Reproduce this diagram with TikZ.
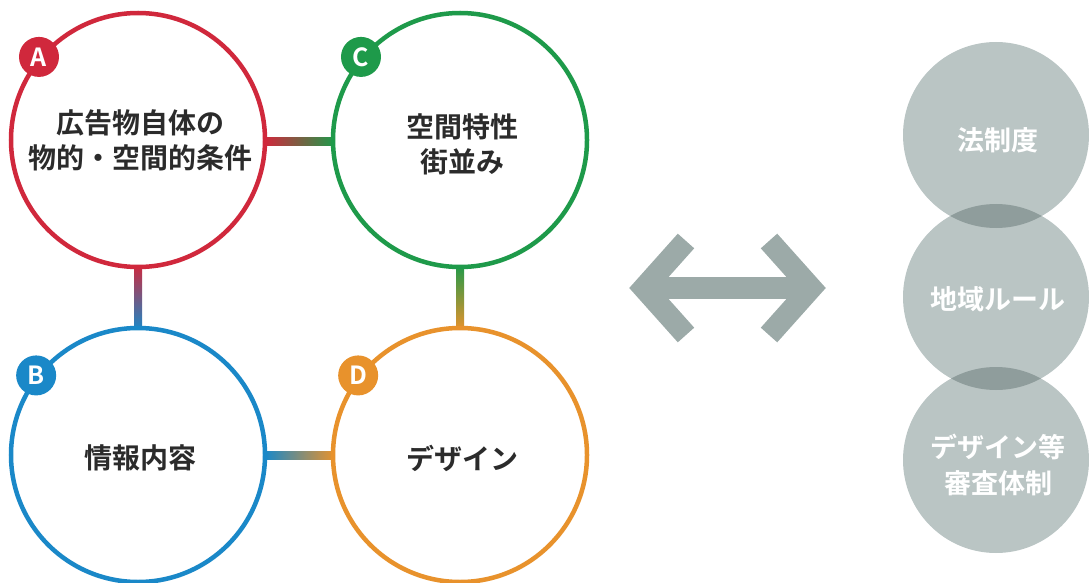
\documentclass[tikz,border=0pt]{standalone}
\usepackage{fontspec}
\setmainfont{Noto Sans CJK JP}[BoldFont={Noto Sans CJK JP Bold}]
\definecolor{cA}{HTML}{D0283C}
\definecolor{cB}{HTML}{1A88C8}
\definecolor{cC}{HTML}{1E9A4A}
\definecolor{cD}{HTML}{E8922C}
\definecolor{txt}{HTML}{2B2B2B}
\definecolor{gfill}{HTML}{BAC5C4}
\definecolor{glens}{HTML}{8F9D9C}
\definecolor{garrow}{HTML}{9CAAA8}
\tikzset{
  ring/.style={circle, minimum size=254pt, inner sep=0pt, line width=4.5pt, draw=#1, fill=white},
  badge/.style={circle, minimum size=40pt, inner sep=0pt, fill=#1, text=white, font=\bfseries\fontsize{25}{25}\selectfont},
  ctext/.style={align=center, text=txt, font=\bfseries\fontsize{28}{35}\selectfont},
  gcirc/.style={circle, minimum size=186pt, inner sep=0pt, fill=gfill},
  gtext/.style={align=center, text=white, font=\bfseries\fontsize{27}{36}\selectfont},
  arrowbar/.style={draw=garrow, line width=22pt, miter limit=10}
}
\begin{document}
\begin{tikzpicture}[x=1pt,y=1pt]
\useasboundingbox (0,0) rectangle (1089,582);
\clip (0,0) rectangle (1089,582);
% connectors (behind circles)
\shade[left color=cA, right color=cC] (265,436) rectangle (335,444);
\shade[top color=cA, bottom color=cB] (134,318) rectangle (142,252);
\shade[top color=cC, bottom color=cD] (456,318) rectangle (464,252);
\shade[left color=cB, right color=cD] (265,123) rectangle (335,131);
% rings
\node[ring=cA] (A) at (138,442) {};
\node[ring=cC] (C) at (460,442) {};
\node[ring=cB] (B) at (138,127) {};
\node[ring=cD] (D) at (460,127) {};
% badges
\node[badge=cA] (bA) at (A.140) {A};
\node[badge=cC] (bC) at (C.140) {C};
\node[badge=cB] (bB) at (B.142) {B};
\node[badge=cD] (bD) at (D.142) {D};
% texts
\node[ctext] (tA) at (140,442) {広告物自体の\\物的・空間的条件};
\node[ctext] (tC) at (462,438) {空間特性\\街並み};
\node[ctext] (tB) at (140,124) {情報内容};
\node[ctext] (tD) at (462,124) {デザイン};
% double arrow
\coordinate (Lt) at (644,294);
\coordinate (Rt) at (811,294);
\draw[arrowbar] (686,341) -- (Lt) -- (686,247);
\draw[arrowbar] (769,341) -- (Rt) -- (769,247);
\draw[arrowbar] (Lt) -- (Rt);
% right circles
\node[gcirc] (G1) at (996,447) {};
\node[gcirc] (G2) at (996,285) {};
\node[gcirc] (G3) at (996,122) {};
\begin{scope}
\clip (996,447) circle (93);
\fill[glens] (996,285) circle (93);
\end{scope}
\begin{scope}
\clip (996,285) circle (93);
\fill[glens] (996,122) circle (93);
\end{scope}
\node[gtext] (t1) at (998,442) {法制度};
\node[gtext] (t2) at (998,283) {地域ルール};
\node[gtext] (t3) at (998,117) {デザイン等\\審査体制};
\end{tikzpicture}
\end{document}
